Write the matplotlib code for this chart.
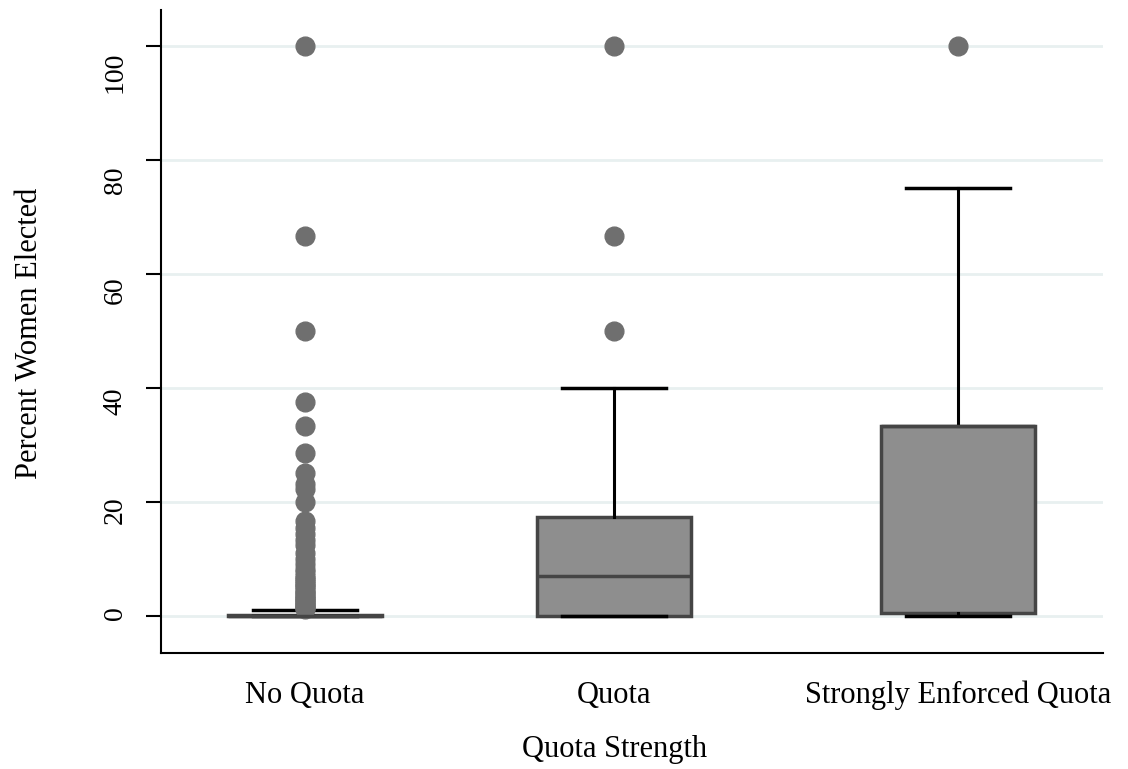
import matplotlib
matplotlib.use("Agg")
import matplotlib.pyplot as plt
import matplotlib.transforms as mtransforms

categories = ["No Quota", "Quota", "Strongly Enforced Quota"]
# box statistics (percent women elected)
q1 = [0.0, 0.0, 0.5]
median = [0.0, 7.0, 33.3]
q3 = [0.2, 17.4, 33.3]
whislo = [0.0, 0.0, 0.0]
whishi = [1.0, 40.0, 75.0]
fliers = [
    [100, 66.7, 50, 37.5, 33.3, 28.6, 25, 23.1, 22.2, 20, 16.7, 15.4, 14.3,
     13.3, 12.5, 11.1, 10, 9.1, 8.3, 7.7, 7.1, 6.7, 6.25, 5.9, 5.6, 5.3, 5,
     4.5, 4.2, 4, 3.7, 3.4, 3.1, 2.9, 2.6, 2.4, 2.2, 2, 1.8, 1.6, 1.4, 1.2],
    [100, 66.7, 50],
    [100],
]
yticks = [0, 20, 40, 60, 80, 100]
positions = [1.0, 2.0, 3.113]

plt.rcParams['font.family'] = ['Liberation Serif', 'DejaVu Serif']

fig = plt.figure(figsize=(11.28, 7.69), dpi=100)
ax = fig.add_axes([0.1427, 0.1508, 0.978 - 0.1427, 0.987 - 0.1508])

stats = []
for i in range(len(categories)):
    stats.append(dict(q1=q1[i], med=median[i], q3=q3[i], whislo=whislo[i],
                      whishi=whishi[i], fliers=fliers[i], label=categories[i]))

ax.bxp(stats, positions=positions, widths=0.5, patch_artist=True,
       boxprops=dict(facecolor='#8e8e8e', edgecolor='#454545', linewidth=2.5),
       medianprops=dict(color='#454545', linewidth=2.5),
       whiskerprops=dict(color='black', linewidth=2.2),
       capprops=dict(color='black', linewidth=2.5),
       capwidths=0.335,
       flierprops=dict(marker='o', markerfacecolor='#6f6f6f',
                       markeredgecolor='#6f6f6f', markersize=13.5),
       zorder=3)

ax.set_xlim(0.534, 3.583)
ax.set_ylim(-6.5, 106.3)
ax.set_yticks(yticks)
ax.set_yticklabels([str(t) for t in yticks], rotation=90, va='center', fontsize=20)
ax.set_xticks(positions)
ax.set_xticklabels(categories, fontsize=22)
ax.tick_params(axis='x', length=0, pad=20)
ax.tick_params(axis='y', length=11, width=1.5, pad=13)
ax.yaxis.grid(True, color='#e8f0f0', linewidth=2)
ax.set_axisbelow(True)
for s in ['top', 'right']:
    ax.spines[s].set_visible(False)
ax.spines['left'].set_linewidth(1.5)
ax.spines['bottom'].set_linewidth(1.5)

# small vertical shifts of the rotated y tick labels (as in the reference)
label_shift_px = [3, -8, -13, -16, -20, -26]
for lab, dy in zip(ax.get_yticklabels(), label_shift_px):
    lab.set_transform(lab.get_transform() +
                      mtransforms.ScaledTranslation(0, dy / 100, fig.dpi_scale_trans))

ax.set_ylabel("Percent Women Elected", fontsize=22)
ax.yaxis.set_label_coords(-0.124, 0.497)
ax.set_xlabel("Quota Strength", fontsize=22)
ax.xaxis.set_label_coords(0.481, -0.128)

fig.savefig("out.png", dpi=100, facecolor='white')
